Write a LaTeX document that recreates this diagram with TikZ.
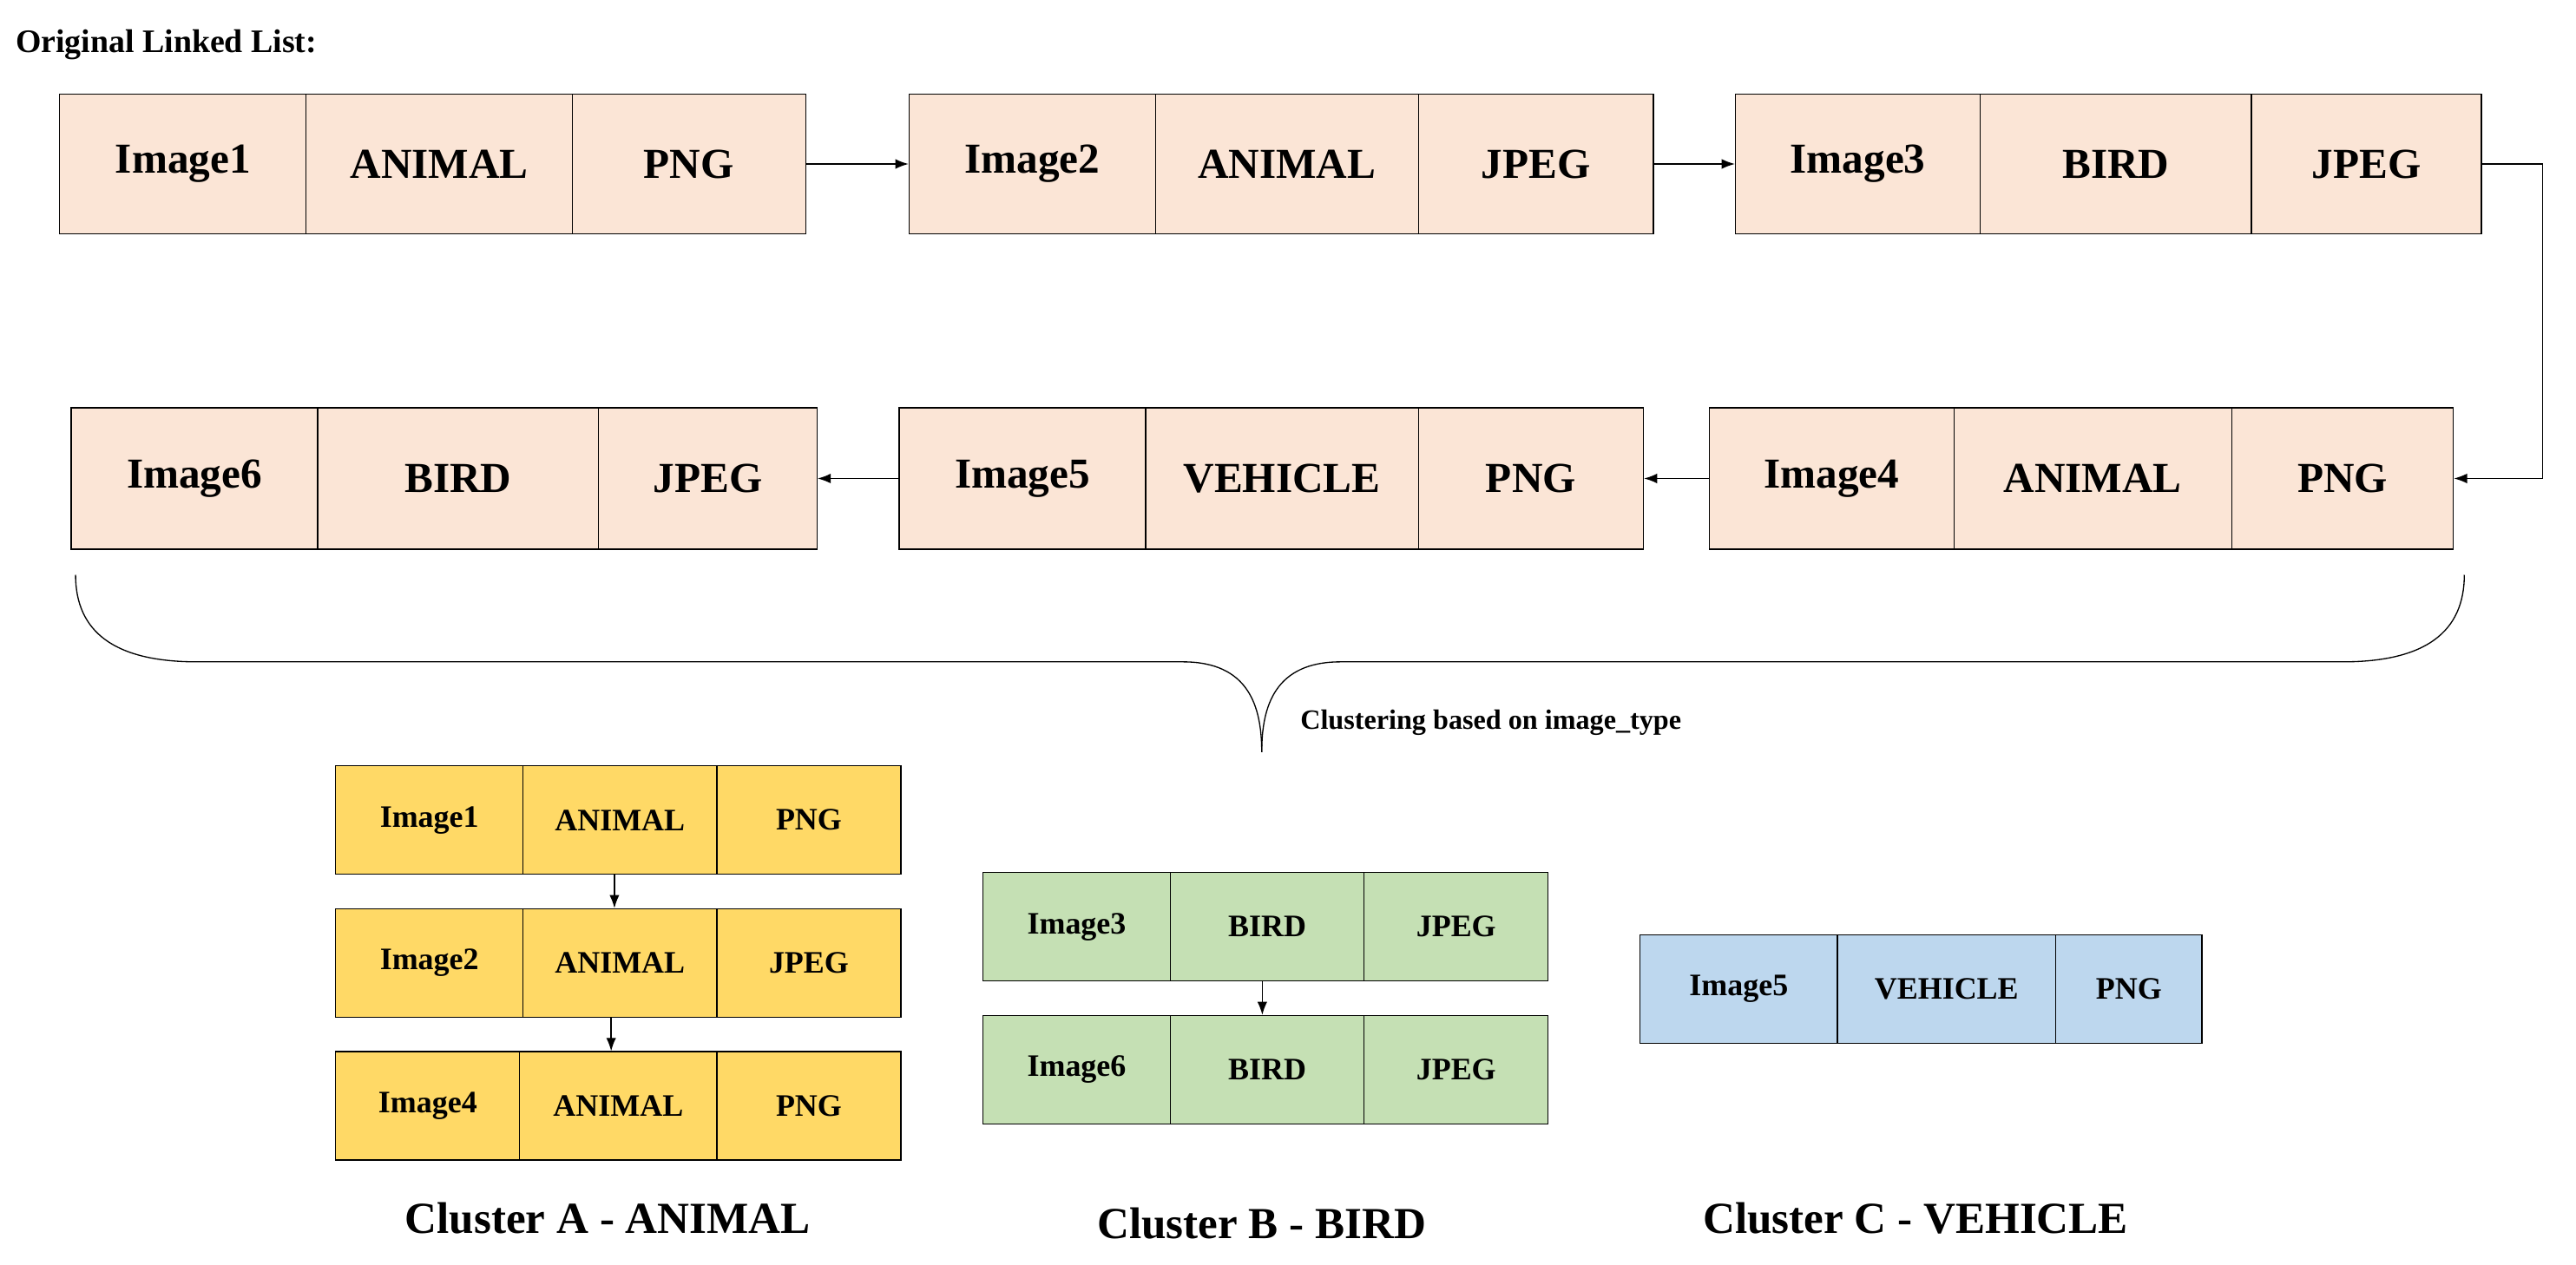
\documentclass[tikz,border=0pt]{standalone}
\usepackage{fontspec}
\setmainfont{Liberation Serif}
\usetikzlibrary{arrows.meta}
\definecolor{peach}{HTML}{FBE5D6}
\definecolor{ylw}{HTML}{FFD966}
\definecolor{grn}{HTML}{C5E0B4}
\definecolor{blu}{HTML}{BDD7EE}
\tikzset{
 cellbox/.style={draw=black,line width=0.7pt,inner sep=0pt,font=\bfseries},
 big/.style={font=\fontsize{26}{30}\selectfont\bfseries},
 small/.style={font=\fontsize{19}{22}\selectfont\bfseries},
 link/.style={line width=0.7pt,-{Latex[length=8pt,width=6pt]}}
}
\def\rh{85}
\newcommand\cell[6]{\node[cellbox,cur,minimum width={(#3-#2)*1pt},minimum height={(#5)*1pt},anchor=north west] (#1) at (#2,#4) {#6};}
\newcommand\rec[9]{%
 \cell{#1a}{#2}{#3}{#6}{\rh}{#7}
 \cell{#1b}{#3}{#4}{#6}{\rh}{#8}
 \cell{#1c}{#4}{#5}{#6}{\rh}{#9}}
\begin{document}
\begin{tikzpicture}[x=1pt,y=-1pt]
\useasboundingbox[fill=white] (0,0) rectangle (1568,770);
\node[anchor=west,font=\fontsize{20}{24}\selectfont\bfseries] (title) at (6,27) {Original Linked List:};
% top rows
\tikzset{cur/.style={big,fill=peach}}
\def\rh{85}
\rec{a}{36}{186}{348}{490}{57}{Image1}{ANIMAL}{PNG}
\rec{b}{553}{703}{863}{1006}{57}{Image2}{ANIMAL}{JPEG}
\rec{c}{1056}{1205}{1370}{1510}{57}{Image3}{BIRD}{JPEG}
\def\rh{86}
\rec{f}{43}{193}{364}{497}{248}{Image6}{BIRD}{JPEG}
\rec{e}{547}{697}{863}{1000}{248}{Image5}{VEHICLE}{PNG}
\rec{d}{1040}{1189}{1358}{1493}{248}{Image4}{ANIMAL}{PNG}
\draw[link] (ac.east) -- (ba.west);
\draw[link] (bc.east) -- (ca.west);
\draw[link] (cc.east) -- ++(37,0) |- (dc.east);
\draw[link] (da.west) -- (ec.east);
\draw[link] (ea.west) -- (fc.east);
% brace
\draw[line width=0.7pt] (46,350) .. controls (46,385) and (70,403) .. (120,403) -- (720,403) .. controls (760,403) and (768,430) .. (768,458);
\draw[line width=0.7pt] (1500,350) .. controls (1500,385) and (1476,403) .. (1426,403) -- (816,403) .. controls (776,403) and (768,430) .. (768,458);
\node[anchor=west,font=\fontsize{17}{20}\selectfont\bfseries] (clab) at (788,440) {Clustering based on image\_type};
% cluster A
\tikzset{cur/.style={small,fill=ylw}}
\def\rh{66}
\rec{p}{204}{318}{436}{548}{466}{Image1}{ANIMAL}{PNG}
\rec{q}{204}{318}{436}{548}{553}{Image2}{ANIMAL}{JPEG}
\rec{r}{204}{316}{436}{548}{640}{Image4}{ANIMAL}{PNG}
\draw[link] (pb.south west) ++(56,0) coordinate (p1) -- (p1 |- qb.north);
\draw[link] (qb.south west) ++(54,0) coordinate (q1) -- (q1 |- rb.north);
% cluster B
\tikzset{cur/.style={small,fill=grn}}
\rec{s}{598}{712}{830}{942}{531}{Image3}{BIRD}{JPEG}
\rec{t}{598}{712}{830}{942}{618}{Image6}{BIRD}{JPEG}
\draw[link] (sb.south) ++(-3,0) coordinate (s1) -- (s1 |- tb.north);
% cluster C
\tikzset{cur/.style={small,fill=blu}}
\rec{u}{998}{1118}{1251}{1340}{569}{Image5}{VEHICLE}{PNG}
\node[font=\fontsize{27}{30}\selectfont\bfseries] (ca1) at (370,742) {Cluster A - ANIMAL};
\node[font=\fontsize{27}{30}\selectfont\bfseries] (cb1) at (768,745) {Cluster B - BIRD};
\node[font=\fontsize{27}{30}\selectfont\bfseries] (cc1) at (1166,742) {Cluster C - VEHICLE};
\end{tikzpicture}
\end{document}
